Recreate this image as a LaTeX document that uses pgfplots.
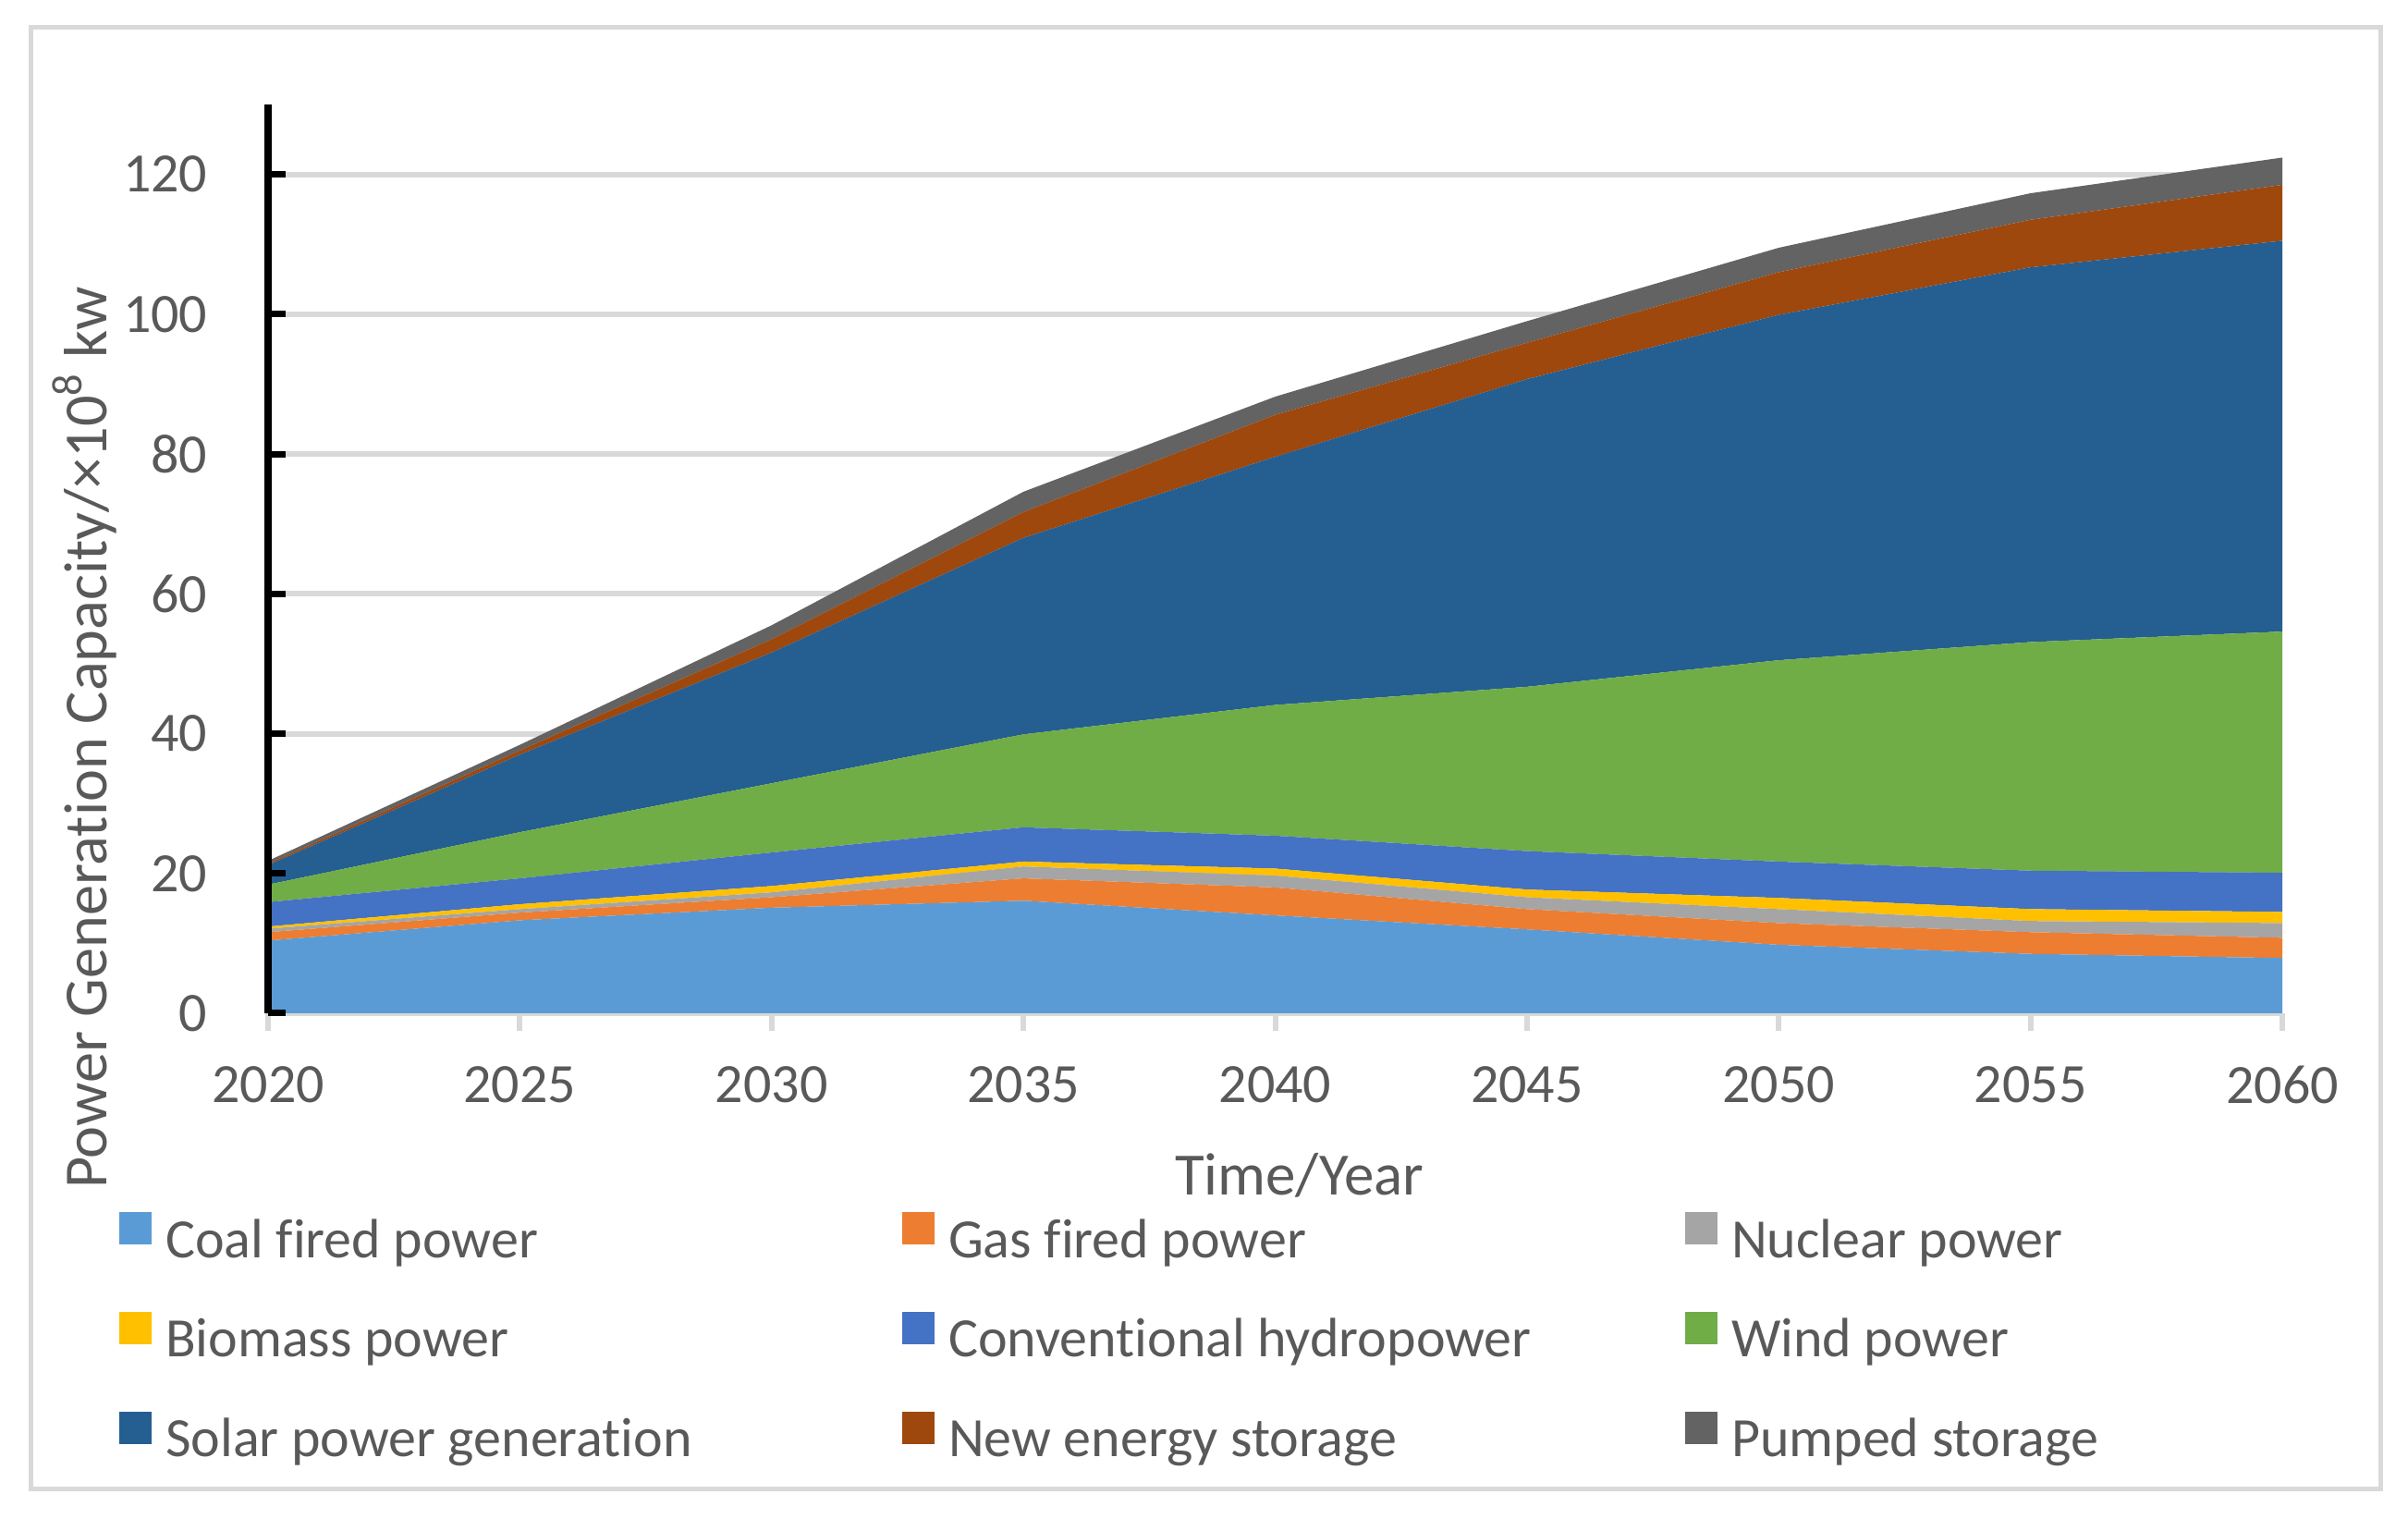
\documentclass[border=0pt]{standalone}
\usepackage{fontspec}
\setmainfont{Carlito}[Ligatures=NoCommon]
\usepackage{pgfplots}
\pgfplotsset{compat=1.18}

\definecolor{coal}{HTML}{5B9BD5}
\definecolor{gas}{HTML}{ED7D31}
\definecolor{nuclear}{HTML}{A5A5A5}
\definecolor{biomass}{HTML}{FFC000}
\definecolor{hydro}{HTML}{4472C4}
\definecolor{wind}{HTML}{70AD47}
\definecolor{solar}{HTML}{255E91}
\definecolor{newstor}{HTML}{9E480E}
\definecolor{pumped}{HTML}{636363}
\definecolor{txt}{HTML}{595959}
\definecolor{gridc}{HTML}{D9D9D9}

\newcommand{\entry}[1]{\makebox[159.4pt][l]{#1}}

\pgfplotsset{
  frame/.style={
    at={(58pt,109.4pt)}, anchor=origin,
    scale only axis,
    width=435.8pt, height=196.6pt,
    xmin=2020, xmax=2060, ymin=0, ymax=130,
    axis x line=bottom, axis y line=left,
    axis line style={-},
    x axis line style={gridc, line width=1.2pt},
    y axis line style={black, line width=1.5pt},
    xtick={2020,2025,...,2060},
    ytick={0,20,...,120},
    xtick align=outside, ytick align=inside,
    major tick length=3.8pt,
    x tick style={gridc, line width=1.2pt},
    y tick style={black, line width=1.4pt},
  }
}

\begin{document}
\begin{tikzpicture}
  \useasboundingbox (0,0) rectangle (521pt,328.6pt);
  \draw[gridc, line width=1pt] (6.6pt,6.4pt) rectangle (515pt,322.6pt);
  \begin{axis}[
      frame,
      stack plots=y,
      area style,
      axis on top=false,
      ymajorgrids,
      major grid style={gridc, line width=1.2pt},
      /pgf/number format/1000 sep={},
      /pgf/number format/assume math mode=true,
      tick label style={font=\fontsize{12}{14}\selectfont, color=txt},
      xticklabel style={yshift=-4.1pt},
      yticklabel style={xshift=-9.6pt},
      every axis x label/.style={at={(axis description cs:0.512,-0.2004)}, anchor=base,
        font=\fontsize{13}{15}\selectfont, color=txt},
      every axis y label/.style={at={(axis description cs:-0.0803,0.3032)}, anchor=base, rotate=90,
        font=\fontsize{13.25}{15}\selectfont, color=txt},
      xlabel={Time/Year},
      ylabel={Power Generation Capacity/×10\textsuperscript{8} kw},
      legend columns=3,
      legend style={draw=none, fill=none, inner sep=0pt,
        at={(axis description cs:-0.0743,-0.2182)}, anchor=north west,
        font=\fontsize{12}{14}\selectfont, text=txt,
        row sep=9.3pt,
        nodes={inner sep=0pt, text height=8pt, text depth=2.5pt},
        /tikz/every odd column/.append style={column sep=3pt},
        /tikz/every even column/.append style={column sep=0pt}},
      legend cell align=left,
      legend image code/.code={\fill[#1, draw=none] (0pt,0pt) rectangle (7pt,7pt);},
    ]
    % Coal fired power
    \addplot[fill=coal, draw=none] coordinates {
      (2020,10.4) (2025,13.3) (2030,15.1) (2035,16.1) (2040,14.0)
      (2045,12.0) (2050,9.8) (2055,8.5) (2060,7.9)} \closedcycle;
    % Gas fired power
    \addplot[fill=gas, draw=none] coordinates {
      (2020,1.2) (2025,1.1) (2030,1.5) (2035,3.2) (2040,4.0)
      (2045,2.9) (2050,3.1) (2055,3.1) (2060,2.9)} \closedcycle;
    % Nuclear power
    \addplot[fill=nuclear, draw=none] coordinates {
      (2020,0.5) (2025,0.5) (2030,0.7) (2035,1.7) (2040,1.7)
      (2045,1.7) (2050,2.0) (2055,1.6) (2060,2.1)} \closedcycle;
    % Biomass power
    \addplot[fill=biomass, draw=none] coordinates {
      (2020,0.3) (2025,0.7) (2030,0.9) (2035,0.7) (2040,1.0)
      (2045,1.1) (2050,1.6) (2055,1.7) (2060,1.6)} \closedcycle;
    % Conventional hydropower
    \addplot[fill=hydro, draw=none] coordinates {
      (2020,3.5) (2025,3.7) (2030,4.8) (2035,4.9) (2040,4.7)
      (2045,5.5) (2050,5.2) (2055,5.5) (2060,5.6)} \closedcycle;
    % Wind power
    \addplot[fill=wind, draw=none] coordinates {
      (2020,2.5) (2025,6.6) (2030,9.9) (2035,13.3) (2040,18.7)
      (2045,23.5) (2050,28.8) (2055,32.7) (2060,34.5)} \closedcycle;
    % Solar power generation
    \addplot[fill=solar, draw=none] coordinates {
      (2020,2.8) (2025,11.1) (2030,18.7) (2035,28.1) (2040,35.5)
      (2045,44.0) (2050,49.4) (2055,53.6) (2060,55.9)} \closedcycle;
    % New energy storage
    \addplot[fill=newstor, draw=none] coordinates {
      (2020,0.2) (2025,0.6) (2030,1.9) (2035,3.7) (2040,6.0)
      (2045,5.2) (2050,6.1) (2055,6.8) (2060,8.0)} \closedcycle;
    % Pumped storage
    \addplot[fill=pumped, draw=none] coordinates {
      (2020,0.4) (2025,0.8) (2030,2.0) (2035,2.9) (2040,2.6)
      (2045,3.1) (2050,3.5) (2055,3.8) (2060,3.9)} \closedcycle;
    \legend{\entry{Coal fired power}, \entry{Gas fired power}, \entry{Nuclear power},
      \entry{Biomass power}, \entry{Conventional hydropower}, \entry{Wind power},
      \entry{Solar power generation}, \entry{New energy storage}, \entry{Pumped storage}}
  \end{axis}
  % y axis line and ticks again, on top of the areas
  \begin{axis}[
      frame,
      axis x line=none,
      axis line style={-},
      yticklabels={},
    ]
  \end{axis}
\end{tikzpicture}
\end{document}
